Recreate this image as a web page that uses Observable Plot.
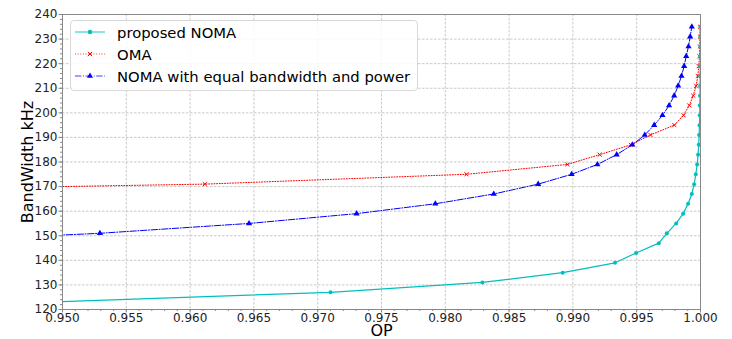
<!DOCTYPE html>
<html>
<head>
<meta charset="utf-8">
<script src="https://cdn.jsdelivr.net/npm/d3@7"></script>
<script src="https://cdn.jsdelivr.net/npm/@observablehq/plot@0.6"></script>
<style>
  html, body { margin: 0; padding: 0; background: #fff; }
  #wrap { position: relative; width: 732px; height: 339px; font-family: "DejaVu Sans", sans-serif; }
  #legend { position: absolute; left: 70px; top: 20px; width: 348px; height: 71px;
    border: 1px solid #d8d8d8; border-radius: 4px; background: rgba(255,255,255,0.85);
    box-sizing: border-box; padding-top: 0px; }
  .row { height: 22px; display: flex; align-items: center; font-size: 14.8px; color: #000; white-space: nowrap; }
  .row svg { margin-left: 4px; margin-right: 12px; flex: none; }
</style>
</head>
<body>
<div id="wrap"></div>
<script>
// Proposed NOMA
const nomaBW = [123,127,131,135,139,143,147,151,155,159,163,167,171,175,179,183,187,191,195,199,203,207,211,215,219,223,227,231,235];
const nomaOP = [0.9489,0.9710,0.9829,0.9892,0.9933,0.99495,0.99673,0.99736,0.99809,0.99864,0.99903,0.99932,0.99950,0.99963,0.99974,0.99981,0.99986,0.99989,0.99992,0.99994,0.99995,0.99996,0.99997,0.99997,0.99998,0.99998,0.99999,0.99999,0.99999];
// OMA
const omaBW = [167,171,175,179,183,187,191,195,199,203,207,211,215,219,223,227,231,235];
const omaOP = [0.9166,0.96115,0.98166,0.98956,0.9921,0.99455,0.99608,0.99795,0.99867,0.99912,0.99943,0.99966,0.99979,0.99986,0.99992,0.99995,0.99996,0.99997];
// NOMA with equal bandwidth and power
const eqBW = [147,151,155,159,163,167,171,175,179,183,187,191,195,199,203,207,211,215,219,223,227,231,235];
const eqOP = [0.9362,0.95293,0.96462,0.97305,0.97922,0.98380,0.98728,0.98990,0.99192,0.99343,0.99466,0.99563,0.99637,0.99702,0.99754,0.99794,0.99825,0.99851,0.99872,0.99888,0.99906,0.99919,0.99932];

const seriesNames = ["proposed NOMA", "OMA", "NOMA with equal bandwidth and power"];
const xTicks = [0.950,0.955,0.960,0.965,0.970,0.975,0.980,0.985,0.990,0.995,1.000];
const yTicks = [120,130,140,150,160,170,180,190,200,210,220,230,240];
const xMinor = d3.range(950, 1001, 1).map(v => v / 1000);
const yMinor = d3.range(120, 241, 2);

const noma = nomaBW.map((b, i) => ({x: nomaOP[i], y: b}));
const oma = omaBW.map((b, i) => ({x: omaOP[i], y: b}));
const eq = eqBW.map((b, i) => ({x: eqOP[i], y: b}));

const cCyan = "#00bfbf", cRed = "#ff0000", cBlue = "#0000ff";

const chart = Plot.plot({
  width: 732, height: 339,
  marginLeft: 62, marginRight: 32, marginTop: 14, marginBottom: 30,
  x: {domain: [0.95, 1.0]},
  y: {domain: [120, 240]},
  style: {fontFamily: "DejaVu Sans, sans-serif", fontSize: "12px", color: "#222", background: "#fff"},
  marks: [
    Plot.gridX(xTicks, {stroke: "#b0b0b0", strokeOpacity: 0.7, strokeDasharray: "2.5,1.5"}),
    Plot.gridY(yTicks, {stroke: "#b0b0b0", strokeOpacity: 0.7, strokeDasharray: "2.5,1.5"}),
    Plot.axisX(xMinor, {tickSize: 2, tickFormat: () => "", label: null, stroke: "#888"}),
    Plot.axisY(yMinor, {tickSize: 2, tickFormat: () => "", label: null, stroke: "#888"}),
    Plot.axisX(xTicks, {tickSize: 3.5, tickPadding: 0.5, tickFormat: d => d.toFixed(3), label: null, stroke: "#888", fill: "#222", fontSize: 12}),
    Plot.axisY(yTicks, {tickSize: 3.5, tickPadding: 1.5, tickFormat: d => d.toFixed(0), label: null, stroke: "#888", fill: "#222", fontSize: 12}),
    Plot.line(oma, {x: "x", y: "y", stroke: cRed, strokeWidth: 1, strokeDasharray: "1,1.65", clip: true}),
    Plot.dot(oma, {x: "x", y: "y", symbol: "times", r: 2, stroke: cRed, strokeWidth: 1, clip: true}),
    Plot.line(eq, {x: "x", y: "y", stroke: cBlue, strokeWidth: 1, strokeDasharray: "6.4,1.6,1,1.6", clip: true}),
    Plot.dot(eq, {x: "x", y: "y", symbol: "triangle", r: 2.3, fill: cBlue, stroke: "none", clip: true}),
    Plot.line(noma, {x: "x", y: "y", stroke: cCyan, strokeWidth: 1.2, clip: true}),
    Plot.dot(noma, {x: "x", y: "y", symbol: "circle", r: 2, fill: cCyan, stroke: "none", clip: true}),
    Plot.frame({stroke: "#888"}),
    Plot.text(["BandWidth kHz"], {frameAnchor: "left", dx: -35, rotate: -90, fontSize: 16, fill: "#000", textAnchor: "middle"}),
    Plot.text(["OP"], {frameAnchor: "bottom", dy: 21, fontSize: 16, fill: "#000", lineAnchor: "middle"})
  ]
});

const wrap = document.getElementById("wrap");
wrap.appendChild(chart);

// Legend overlay (inside the axes, upper left)
const legend = document.createElement("div");
legend.id = "legend";
const styles = [
  {color: cCyan, dash: null, sym: "circle"},
  {color: cRed, dash: "1,1.65", sym: "times"},
  {color: cBlue, dash: "6.4,1.6,1,1.6", sym: "triangle"}
];
seriesNames.forEach((name, i) => {
  const s = styles[i];
  const row = document.createElement("div");
  row.className = "row";
  const svg = d3.create("svg").attr("width", 30).attr("height", 10);
  svg.append("line").attr("x1", 0).attr("x2", 30).attr("y1", 5).attr("y2", 5)
    .attr("stroke", s.color).attr("stroke-width", 1.2).attr("stroke-opacity", 0.75)
    .attr("stroke-dasharray", s.dash);
  const sym = s.sym === "circle" ? d3.symbolCircle : s.sym === "times" ? d3.symbolTimes : d3.symbolTriangle;
  const p = svg.append("path").attr("transform", "translate(15,5)")
    .attr("d", d3.symbol(sym, s.sym === "times" ? 14 : 16)());
  if (s.sym === "times") p.attr("fill", "none").attr("stroke", s.color).attr("stroke-width", 1);
  else p.attr("fill", s.color);
  row.appendChild(svg.node());
  const t = document.createElement("span");
  t.textContent = name;
  row.appendChild(t);
  legend.appendChild(row);
});
wrap.appendChild(legend);
</script>
</body>
</html>
